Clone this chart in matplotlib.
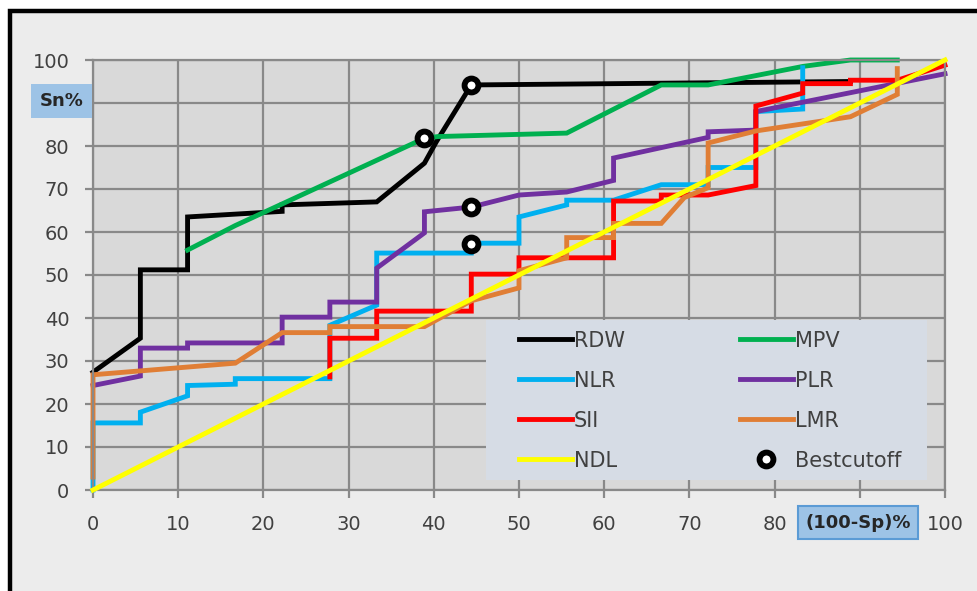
import matplotlib
matplotlib.use('Agg')
import matplotlib.pyplot as plt
from matplotlib.patches import Rectangle
import matplotlib.transforms as mtransforms

# --- Data (x = 100-Sp %, y = Sn %) ---
rdw_x = [0, 5.56, 5.56, 11.1, 11.1, 22.2, 22.2, 33.3, 38.9, 40.3, 44.4, 88.9]
rdw_y = [27.4, 35.3, 51.2, 51.2, 63.5, 64.8, 66.3, 67.0, 76.0, 81.0, 94.2, 95.0]

mpv_x = [11.1, 16.7, 38.9, 40.5, 55.6, 66.7, 72.2, 83.3, 88.9, 94.4]
mpv_y = [55.8, 61.5, 81.8, 82.2, 83.0, 94.2, 94.2, 98.5, 100, 100]

nlr_x = [0, 0, 5.56, 5.56, 11.1, 11.1, 16.7, 16.7, 27.8, 27.8, 33.3, 33.3,
         44.4, 44.4, 50, 50, 55.6, 55.6, 61.1, 66.7, 72.2, 72.2, 77.8, 77.8,
         83.3, 83.3]
nlr_y = [0, 15.6, 15.6, 18.1, 21.9, 24.3, 24.6, 25.9, 25.9, 38.3, 43.0, 55.1,
         55.1, 57.4, 57.4, 63.5, 66.3, 67.4, 67.4, 71.0, 71.0, 75.0, 75.0, 88.0,
         88.6, 98.2]

plr_x = [0, 5.56, 5.56, 11.1, 11.1, 22.2, 22.2, 27.8, 27.8, 33.3, 33.3, 38.9,
         38.9, 44.4, 50, 55.6, 61.1, 61.1, 72.2, 72.2, 77.8, 77.8, 100]
plr_y = [24.3, 26.5, 33.0, 33.0, 34.2, 34.2, 40.2, 40.2, 43.7, 43.7, 51.6, 59.8,
         64.7, 65.8, 68.6, 69.3, 72.0, 77.2, 82.0, 83.3, 83.7, 88.0, 96.8]

sii_x = [27.8, 27.8, 33.3, 33.3, 44.4, 44.4, 50, 50, 61.1, 61.1, 66.7, 66.7,
         72.2, 77.8, 77.8, 83.3, 83.3, 88.9, 88.9, 94.4, 100]
sii_y = [26.3, 35.3, 35.3, 41.6, 41.6, 50.2, 50.2, 54.0, 54.0, 67.2, 67.2, 68.6,
         68.6, 70.8, 89.3, 92.3, 94.5, 94.5, 95.3, 95.3, 98.8]

lmr_x = [0, 0, 16.7, 22.2, 27.8, 27.8, 38.9, 44.4, 50, 50, 55.6, 55.6, 61.1,
         61.1, 66.7, 69.4, 72.2, 72.2, 77.8, 88.9, 94.4, 94.4]
lmr_y = [3.0, 26.8, 29.5, 36.6, 36.6, 38.0, 38.0, 44.0, 47.0, 51.0, 54.0, 58.7,
         58.7, 62.0, 62.0, 68.0, 70.3, 80.7, 83.5, 86.8, 92.0, 98.0]

ndl_x = [0, 100]
ndl_y = [0, 100]

best_x = [44.4, 38.9, 44.4, 44.4]
best_y = [94.2, 81.8, 65.8, 57.3]

ticks = list(range(0, 101, 10))
x_ticklabels = [str(t) if t != 90 else '' for t in ticks]
y_ticklabels = [str(t) if t != 90 else '' for t in ticks]

# --- Figure ---
fig = plt.figure(figsize=(9.77, 5.91), dpi=100)
fig.patch.set_facecolor('white')

# outer chart frame (runs off the right and bottom edges)
frame = Rectangle((9.5 / 977, -0.05), 1.1, 1.0322, transform=fig.transFigure,
                  facecolor='#ececec', edgecolor='black', linewidth=3.2, zorder=-10)
fig.add_artist(frame)

ax = fig.add_axes([93 / 977, 1 - 490 / 591, 852 / 977, 430 / 591])
ax.set_zorder(1)
ax.set_facecolor('#d9d9d9')
ax.set_xlim(0, 100)
ax.set_ylim(0, 100)

grid_color = '#898989'
ax.set_axisbelow(True)
ax.grid(True, color=grid_color, linewidth=1.6)
for sp in ax.spines.values():
    sp.set_color(grid_color)
    sp.set_linewidth(1.6)

ax.set_xticks(ticks)
ax.set_xticklabels(x_ticklabels)
ax.set_yticks(ticks)
ax.set_yticklabels(y_ticklabels)
ax.tick_params(axis='both', length=6, width=1.6, color=grid_color,
               labelsize=14, labelcolor='#404040')
ax.tick_params(axis='y', pad=11)
ax.tick_params(axis='x', pad=12)

lw = 3.5
series = [
    ('RDW', rdw_x, rdw_y, 'black'),
    ('MPV', mpv_x, mpv_y, '#00b050'),
    ('NLR', nlr_x, nlr_y, '#00b0f0'),
    ('PLR', plr_x, plr_y, '#7030a0'),
    ('SII', sii_x, sii_y, '#ff0000'),
    ('LMR', lmr_x, lmr_y, '#e07e35'),
    ('NDL', ndl_x, ndl_y, '#ffff00'),
]
handles = {}
for i, (name, xs, ys, col) in enumerate(series):
    h, = ax.plot(xs, ys, color=col, linewidth=lw, solid_joinstyle='miter',
                 label=name, clip_on=False, zorder=2 + i * 0.1)
    handles[name] = h

hb, = ax.plot(best_x, best_y, linestyle='none', marker='o', markersize=10,
              markerfacecolor='white', markeredgecolor='black',
              markeredgewidth=4.2, clip_on=False, zorder=4, label='Bestcutoff')
handles['Bestcutoff'] = hb

# legend background
ax.add_patch(Rectangle((0.461, 0.023), 0.518, 0.372, transform=ax.transAxes,
                       facecolor='#d6dce5', edgecolor='none', zorder=5,
                       clip_on=False))

order = ['RDW', 'NLR', 'SII', 'NDL', 'MPV', 'PLR', 'LMR', 'Bestcutoff']
leg = ax.legend([handles[k] for k in order], order, ncol=2,
                loc='upper left', bbox_to_anchor=(0.4777, 0.414),
                frameon=False, fontsize=15, handlelength=2.55,
                handletextpad=0.1, columnspacing=5.5, labelspacing=0.96,
                borderpad=0.4, labelcolor='#404040')
leg.set_zorder(6)

# axis title boxes standing in for the "90" tick labels
ytrans = mtransforms.blended_transform_factory(ax.transAxes, ax.transData)
ax.text(-0.037, 90.5, 'Sn%', transform=ytrans, ha='center', va='center',
        fontsize=13, fontweight='bold', color='#262626',
        bbox=dict(boxstyle='square,pad=0.45', facecolor='#9dc3e6',
                  edgecolor='none'))
xtrans = mtransforms.blended_transform_factory(ax.transData, ax.transAxes)
ax.text(89.8, -0.0756, '(100-Sp)%', transform=xtrans, ha='center', va='center',
        fontsize=13, fontweight='bold', color='#262626',
        bbox=dict(boxstyle='square,pad=0.4', facecolor='#9dc3e6',
                  edgecolor='#5b9bd5', linewidth=1.5))

fig.savefig('out.png', dpi=100)
